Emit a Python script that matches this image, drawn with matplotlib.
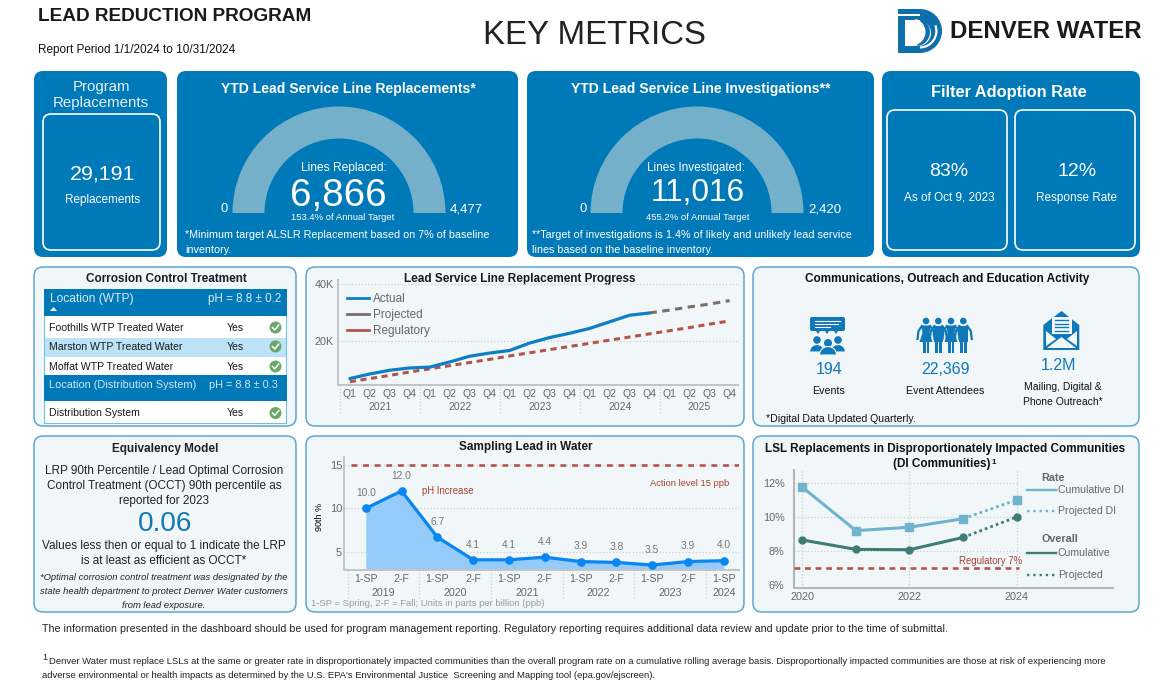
import matplotlib
matplotlib.use("Agg")
import matplotlib.pyplot as plt
from matplotlib.lines import Line2D
from matplotlib.patches import Circle, FancyBboxPatch, Polygon, Rectangle, Wedge

plt.rcParams["font.family"] = ["Liberation Sans", "DejaVu Sans"]

W, H = 1169, 693

# -----------------------------
# Data
# -----------------------------
quarters = ["Q1", "Q2", "Q3", "Q4"]
lsl_years = ["2021", "2022", "2023", "2024", "2025"]
lsl_actual = [6.9, 8.5, 9.8, 10.6, 10.9, 12.7, 14.7, 15.8, 16.7, 19.3, 21.2, 22.7, 24.4, 26.7, 29.0, 29.8]
lsl_projected = [29.8, 30.8, 31.9, 32.9, 34.1]
lsl_regulatory = [5.8, 6.9, 8.0, 9.2, 10.3, 11.4, 12.5, 13.6, 14.8, 15.9,
                  17.0, 18.1, 19.2, 20.3, 21.4, 22.5, 23.6, 24.7, 25.9, 27.0]

sample_labels = ["1-SP", "2-F", "1-SP", "2-F", "1-SP", "2-F", "1-SP", "2-F", "1-SP", "2-F", "1-SP"]
sample_years = ["2019", "2020", "2021", "2022", "2023", "2024"]
sample_values = [10.0, 12.0, 6.7, 4.1, 4.1, 4.4, 3.9, 3.8, 3.5, 3.9, 4.0]
action_level = 15

di_years = [2020, 2021, 2022, 2023]
di_rate = [11.75, 9.2, 9.4, 9.9]
overall_rate = [8.65, 8.1, 8.08, 8.8]
proj_years = [2023, 2024]
di_proj = [9.9, 11.0]
overall_proj = [8.8, 10.0]
reg_rate = 7

lsl_replaced = 6866
lsl_target = 4477
lines_investigated = 11016
investigation_target = 2420

wtp_rows = ["Foothills WTP Treated Water", "Marston WTP Treated Water", "Moffat WTP Treated Water"]

BLUE = "#0079B8"
GAUGE = "#74B0CA"
PANEL = "#F1F6F9"
EDGE = "#5BA6D2"
GRAY = "#666666"
RED = "#B5544A"
DI_LIGHT = "#6FB3CE"
DI_DARK = "#3F7C78"
ICON = "#0F78B8"
LOGO = "#0F6FAD"
GRID = "#C8D0D4"

fig = plt.figure(figsize=(W / 100, H / 100), dpi=100, facecolor="white")
ax = fig.add_axes([0, 0, 1, 1])
ax.set_xlim(0, W)
ax.set_ylim(H, 0)
ax.axis("off")


def txt(x, y, s, px, color="black", ha="center", weight="normal", style="normal", va="center"):
    # font size given in pixels, position in pixels
    return ax.text(x, y + 2, s, fontsize=px * 0.72, color=color, ha=ha, va=va, weight=weight, style=style)


def box(x0, y0, x1, y1, face, edge="none", lw=0, r=9):
    ax.add_patch(FancyBboxPatch((x0 + r, y0 + r), x1 - x0 - 2 * r, y1 - y0 - 2 * r,
                                boxstyle=f"round,pad={r},rounding_size={r}",
                                fc=face, ec=edge, lw=lw))


def rect(x0, y0, x1, y1, color):
    ax.add_patch(Rectangle((x0, y0), x1 - x0, y1 - y0, fc=color, ec="none"))


def chart_axes(x0, y_top, x1, y_bottom):
    a = fig.add_axes([x0 / W, 1 - y_bottom / H, (x1 - x0) / W, (y_bottom - y_top) / H])
    a.patch.set_alpha(0)
    for s in ["top", "right"]:
        a.spines[s].set_visible(False)
    for s in ["left", "bottom"]:
        a.spines[s].set_color("#C4C4C4")
        a.spines[s].set_linewidth(1.4)
    a.tick_params(length=0, labelcolor=GRAY)
    return a


def gauge(cx, cy, value, target):
    sweep = min(value / target, 1) * 180
    ax.add_patch(Wedge((cx, cy), 106.5, 180, 180 + sweep, width=32, fc=GAUGE, ec="none"))


# -----------------------------
# Header
# -----------------------------
txt(38, 14.5, "LEAD REDUCTION PROGRAM", 19, "#1A1A1A", ha="left", weight="bold")
txt(38, 48.5, "Report Period 1/1/2024 to 10/31/2024", 11.7, "#111111", ha="left")
txt(594, 33, "KEY METRICS", 33, "#222222")

# logo
rect(898, 9, 920, 53, LOGO)
ax.add_patch(Wedge((920, 31), 22, -90, 90, fc=LOGO, ec="none"))
ax.add_patch(Wedge((920, 31), 17.5, -20, 90, width=2.2, fc="white", ec="none"))
rect(898, 13.5, 920, 15.7, "white")
rect(905, 20, 918, 46, "white")
ax.add_patch(Wedge((918, 33), 13, -90, 90, fc="white", ec="none"))
ax.add_patch(Wedge((916, 32), 14, -70, 85, fc=LOGO, ec="none"))
ax.add_patch(Wedge((912, 32), 13.5, -75, 85, fc="white", ec="none"))
txt(950, 29, "DENVER WATER", 24, "#1A1A1A", ha="left", weight="bold")

# -----------------------------
# Top row panels
# -----------------------------
box(34, 71, 167, 257, BLUE)
txt(101, 85, "Program", 15, "#E8F2F8")
txt(101, 101, "Replacements", 15, "#E8F2F8")
box(43, 114, 160, 250, "none", "white", 1.2, r=8)
txt(102.5, 172, "29,191", 21.5, "white")
txt(103, 198, "Replacements", 11.8, "white")

box(177, 71, 518, 257, BLUE)
txt(348, 87, "YTD Lead Service Line Replacements*", 14, "white", weight="bold")
gauge(339, 213, lsl_replaced, lsl_target)
txt(344, 166, "Lines Replaced:", 12, "white")
txt(338, 194, f"{lsl_replaced:,}", 38.5, "white")
txt(343, 216, "153.4% of Annual Target", 9.5, "white")
txt(224, 207, "0", 13, "white")
txt(466, 207, f"{lsl_target:,}", 13.3, "white")
txt(185, 233, "*Minimum target ALSLR Replacement based on 7% of baseline", 10.7, "white", ha="left")
txt(185, 248, "inventory.", 10.7, "white", ha="left")

box(527, 71, 874, 257, BLUE)
txt(701, 87, "YTD Lead Service Line Investigations**", 14, "white", weight="bold")
gauge(697, 213, lines_investigated, investigation_target)
txt(696, 166, "Lines Investigated:", 11.7, "white")
txt(697.5, 191, f"{lines_investigated:,}", 31.5, "white")
txt(697.5, 215, "455.2% of Annual Target", 9.5, "white")
txt(583, 207, "0", 13, "white")
txt(825, 207, f"{investigation_target:,}", 13.3, "white")
txt(532, 233, "**Target of investigations is 1.4% of likely and unlikely lead service", 10.7, "white", ha="left")
txt(532, 248, "lines based on the baseline inventory.", 10.7, "white", ha="left")

box(882, 71, 1140, 257, BLUE)
txt(1009, 90, "Filter Adoption Rate", 16.4, "white", weight="bold")
box(887, 110, 1007, 250, "none", "white", 1.2, r=8)
box(1015, 110, 1135, 250, "none", "white", 1.2, r=8)
txt(949, 170, "83%", 19.5, "white")
txt(949, 196, "As of Oct 9, 2023", 11.8, "white")
txt(1077, 170, "12%", 19.5, "white")
txt(1077, 196, "Response Rate", 11.8, "white")

# -----------------------------
# Lower panels
# -----------------------------
for x0, x1 in [(34, 296), (306, 744), (753, 1139)]:
    box(x0, 267, x1, 426, PANEL, EDGE, 1.1)
    box(x0, 436, x1, 612, PANEL, EDGE, 1.1)

# Corrosion table
txt(166, 277, "Corrosion Control Treatment", 11.7, "#1A1A2A", weight="bold")
rect(44, 289, 287, 424, "#6CC0EE")
rect(45, 290, 286, 423, "white")
rect(44, 289, 287, 316, BLUE)
rect(45, 338, 286, 357, "#BDE3F8")
rect(44, 375, 287, 401, BLUE)
txt(49.5, 297, "Location (WTP)", 12, "#DCEBF5", ha="left")
txt(281, 297, "pH = 8.8 ± 0.2", 11.6, "#DCEBF5", ha="right")
ax.add_patch(Polygon([(50, 311), (57, 311), (53.5, 307)], fc="white", ec="none"))
txt(49, 383, "Location (Distribution System)", 11, "#CFE6F4", ha="left")
txt(278, 383, "pH = 8.8 ± 0.3", 11, "#CFE6F4", ha="right")


def check(x, y):
    ax.add_patch(Circle((x, y), 6, fc="#6AA86A", ec="none"))
    ax.plot([x - 3, x - 0.8, x + 3.2], [y, y + 2.4, y - 2.4], color="white", lw=1.1)


row_y = [326, 345, 365]
for name, y in zip(wtp_rows, row_y):
    txt(49, y, name, 10.45, "#1A1A1A", ha="left")
    txt(235, y, "Yes", 10.45, "#1A1A1A")
    check(275.5, y + 1.5)
txt(49, 411, "Distribution System", 10.45, "#1A1A1A", ha="left")
txt(235, 411, "Yes", 10.45, "#1A1A1A")
check(275.5, 413)

# Replacement progress
txt(520, 277, "Lead Service Line Replacement Progress", 11.8, "#1A1A1A", weight="bold")
a1 = chart_axes(338.3, 280, 738.5, 384.7)
q_x = list(range(len(quarters) * len(lsl_years)))
a1.plot(q_x[:len(lsl_actual)], lsl_actual, color="#0E7FC4", lw=2.3, solid_capstyle="round", zorder=4)
a1.plot(q_x[len(lsl_actual) - 1:], lsl_projected, color="#7A6E6A", lw=2.2, ls=(0, (2.4, 1.8)), zorder=3)
a1.plot(q_x, lsl_regulatory, color=RED, lw=2.2, ls=(0, (2.0, 1.5)), zorder=3)
a1.set_xlim(-0.58, 19.45)
a1.set_ylim(4.75, 41.3)
a1.set_yticks([20, 40], ["20K", "40K"], fontsize=7.8)
a1.yaxis.grid(True, ls=":", color=GRID, lw=0.9)
a1.set_axisbelow(True)
a1.set_xticks(q_x, quarters * len(lsl_years), fontsize=7.5)
a1.tick_params(axis="x", pad=3)
a1.tick_params(axis="y", pad=3)
tr = a1.get_xaxis_transform()
for i, year in enumerate(lsl_years):
    a1.text(4 * i + 1.5, -0.215, year, transform=tr, ha="center", va="center", fontsize=7.5, color=GRAY)
    a1.plot([4 * i - 0.5] * 2, [0, -0.28], transform=tr, color=GRID, ls=":", lw=0.9, clip_on=False)
a1.legend(handles=[Line2D([], [], color="#0E7FC4", lw=2.0),
                   Line2D([], [], color="#7A6E6A", lw=2.0),
                   Line2D([], [], color=RED, lw=2.0)],
          labels=["Actual", "Projected", "Regulatory"], frameon=False, fontsize=8.5,
          labelcolor=GRAY, loc="upper left", bbox_to_anchor=(0.0225, 0.875), borderaxespad=0,
          borderpad=0, handlelength=1.8, handletextpad=0.4, labelspacing=0.32)

# Communications
txt(947, 277, "Communications, Outreach and Education Activity", 11.8, "#111111", weight="bold")
# events icon
box(810, 317, 845, 331, ICON, r=2)
for x0, x1, y in [(815, 840, 320.5), (815, 838, 323.5), (815, 830, 326.5)]:
    ax.plot([x0, x1], [y, y], color="white", lw=0.8)
for x in [818, 827, 836]:
    ax.add_patch(Polygon([(x - 2, 331), (x + 2, 331), (x, 334)], fc=ICON, ec="none"))
for cx, cy, r, rx, bottom in [(817, 340, 3.8, 7.5, 352), (838, 340, 3.8, 7.5, 352), (828, 343, 4, 8.5, 355)]:
    ax.add_patch(Circle((cx, cy), r, fc=ICON, ec="none"))
    ax.add_patch(Wedge((cx, bottom), rx, 180, 360, fc=ICON, ec=PANEL, lw=0.8))
# people icon
for i, cx in enumerate([926, 938.3, 951, 963.3]):
    ax.add_patch(Circle((cx, 321), 3.3, fc=ICON, ec="none"))
    if i % 2 == 0:
        ax.add_patch(Polygon([(cx - 4.5, 325.5), (cx + 4.5, 325.5), (cx + 3.5, 333), (cx + 6.5, 342),
                              (cx - 6.5, 342), (cx - 3.5, 333)], fc=ICON, ec="none"))
    else:
        rect(cx - 4.5, 325.5, cx + 4.5, 342, ICON)
    rect(cx - 3.4, 341, cx - 0.5, 353, ICON)
    rect(cx + 0.5, 341, cx + 3.4, 353, ICON)
    ax.plot([cx - 4, cx - 7.5, cx - 8.5], [326, 331, 339], color=ICON, lw=1.6)
    ax.plot([cx + 4, cx + 7.5, cx + 8.5], [326, 331, 339], color=ICON, lw=1.6)
# envelope icon
ax.add_patch(Polygon([(1043.3, 325), (1061.5, 311), (1079.3, 325), (1079.3, 350), (1043.3, 350)], fc=ICON, ec="none"))
ax.add_patch(Polygon([(1047, 348), (1061.5, 337), (1076, 348)], fc=PANEL, ec="none"))
ax.add_patch(Polygon([(1046, 331), (1056, 339), (1046, 346)], fc=PANEL, ec="none"))
ax.add_patch(Polygon([(1077, 331), (1067, 339), (1077, 346)], fc=PANEL, ec="none"))
rect(1051.5, 316.5, 1071.5, 334, "#F7FAFC")
for y in [320, 323.5, 327, 330.5]:
    ax.plot([1055, 1068], [y, y], color=ICON, lw=1)
txt(829, 368, "194", 16, ICON)
txt(829, 389, "Events", 10.6, "#111111")
txt(945, 368, "22,369", 16, ICON)
txt(945, 389, "Event Attendees", 10.6, "#111111")
txt(1059, 364, "1.2M", 16, ICON)
txt(1063, 385, "Mailing, Digital &", 10.4, "#111111")
txt(1063, 400, "Phone Outreach*", 10.4, "#111111")
txt(766, 417, "*Digital Data Updated Quarterly.", 10.5, "#111111", ha="left")

# Equivalency model
txt(165, 447, "Equivalency Model", 11.7, "#222222", weight="bold")
txt(164, 469, "LRP 90th Percentile / Lead Optimal Corrosion", 11.8, "#222222")
txt(164, 484, "Control Treatment (OCCT) 90th percentile as", 11.8, "#222222")
txt(164, 499, "reported for 2023", 11.8, "#222222")
txt(165, 522, "0.06", 28, ICON)
txt(164, 544, "Values less then or equal to 1 indicate the LRP", 11.8, "#222222")
txt(164, 559, "is at least as efficient as OCCT*", 11.8, "#222222")
txt(164, 575, "*Optimal corrosion control treatment was designated by the", 9.35, "#222222", style="italic")
txt(164, 590, "state health department to protect Denver Water customers", 9.35, "#222222", style="italic")
txt(164, 604, "from lead exposure.", 9.35, "#222222", style="italic")

# Sampling lead
txt(526, 445, "Sampling Lead in Water", 11.7, "#1A1A1A", weight="bold")
a2 = chart_axes(344.3, 457, 738.5, 570)
s_x = list(range(len(sample_values)))
a2.set_xlim(-0.6, 10.41)
a2.set_ylim(2.93, 15.9)
a2.fill_between(s_x, sample_values, a2.get_ylim()[0], color="#94CBFA", lw=0, zorder=2)
a2.plot(s_x, sample_values, color="#0A86F0", lw=2.3, marker="o", ms=5.2, zorder=4)
a2.axhline(action_level, color=RED, lw=1.9, ls=(0, (2.2, 2.2)), xmin=0.016, zorder=3)
a2.set_yticks([5, 10, 15], ["5", "10", "15"], fontsize=8)
a2.yaxis.grid(True, ls=":", color=GRID, lw=0.9)
a2.set_axisbelow(True)
a2.set_xticks(s_x, sample_labels, fontsize=7.7)
a2.tick_params(axis="x", pad=3)
a2.tick_params(axis="y", pad=1.5)
for x, v in zip(s_x, sample_values):
    a2.annotate(f"{v:.1f}", (x, v), xytext=(0, 11), textcoords="offset points", ha="center", va="center",
                fontsize=7.4, color="#777777")
tr = a2.get_xaxis_transform()
for i, year in enumerate(sample_years):
    center = 2 * i + (0.5 if i < len(sample_years) - 1 else 0)
    a2.text(center, -0.2, year, transform=tr, ha="center", va="center", fontsize=7.7, color=GRAY)
    a2.plot([2 * i - 0.5] * 2, [0, -0.25], transform=tr, color=GRID, ls=":", lw=0.9, clip_on=False)
txt(320, 515, "90th %", 9, "black").set_rotation(90)
txt(422, 489, "pH Increase", 9.6, "#A8432F", ha="left")
txt(729, 481, "Action level 15 ppb", 9.4, "#A8432F", ha="right")
txt(311, 601, "1-SP = Spring, 2-F = Fall; Units in parts per billion (ppb)", 9.45, "#9A9A9A", ha="left")

# DI communities
txt(945, 447, "LSL Replacements in Disproportionately Impacted Communities", 11.75, "#111111", weight="bold")
txt(942, 462, "(DI Communities)", 11.75, "#111111", weight="bold")
txt(994, 461, "1", 8, "#111111", weight="bold")
a3 = chart_axes(794.3, 470, 1113, 587.7)
a3.plot(di_years, di_rate, color=DI_LIGHT, lw=2.2, marker="s", ms=6, zorder=4)
a3.plot(proj_years, di_proj, color=DI_LIGHT, lw=2, ls=(0, (1, 1.1)), marker="s", ms=6, markevery=[1], zorder=4)
a3.plot(di_years, overall_rate, color=DI_DARK, lw=2.2, marker="o", ms=5, zorder=4)
a3.plot(proj_years, overall_proj, color=DI_DARK, lw=2, ls=(0, (1, 1.1)), marker="o", ms=5, markevery=[1], zorder=4)
a3.set_xlim(2019.85, 2025.8)
a3.set_ylim(5.85, 12.76)
a3.hlines(reg_rate, 2019.85, 2024.05, color=RED, lw=1.9, ls=(0, (2.2, 1.8)), zorder=3)
a3.set_yticks([6, 8, 10, 12], ["6%", "8%", "10%", "12%"], fontsize=7.8)
a3.set_xticks([2020, 2022, 2024], ["2020", "2022", "2024"], fontsize=7.8)
# grid stops at the last year, the legend sits to the right of it
a3.hlines([8, 10, 12], 2019.85, 2024, color=GRID, ls=":", lw=0.9, zorder=1)
a3.vlines([2020, 2022, 2024], 5.85, 12.76, color=GRID, ls=":", lw=0.9, zorder=1)
a3.spines["left"].set_color("#B4B4B4")
a3.spines["bottom"].set_color("#B4B4B4")
a3.tick_params(axis="x", pad=3)
a3.tick_params(axis="y", pad=7)
txt(991, 559, "Regulatory 7%", 9.6, "#A8432F")
txt(1041, 476, "Rate", 10.8, "#666666", ha="left", weight="bold")
txt(1041, 537, "Overall", 10.8, "#666666", ha="left", weight="bold")
legend_rows = [(490, "Cumulative DI", DI_LIGHT, "-"), (511, "Projected DI", DI_LIGHT, ":"),
               (553, "Cumulative", DI_DARK, "-"), (575, "Projected", DI_DARK, ":")]
for y, label, c, ls in legend_rows:
    ax.plot([1027, 1056], [y, y], color=c, lw=1.7, ls=ls)
    txt(1058, y - 2, label, 10.5, GRAY, ha="left")

# -----------------------------
# Footer
# -----------------------------
txt(42, 627, "The information presented in the dashboard should be used for program management reporting. "
    "Regulatory reporting requires additional data review and update prior to the time of submittal.",
    10.6, "#222222", ha="left")
txt(42, 655, "1", 9, "#222222", ha="left")
txt(49, 659, "Denver Water must replace LSLs at the same or greater rate in disproportionately impacted communities "
    "than the overall program rate on a cumulative rolling average basis. Disproportionally impacted communities "
    "are those at risk of experiencing more", 9.5, "#222222", ha="left")
txt(42, 674, "adverse environmental or health impacts as determined by the U.S. EPA's Environmental Justice  Screening "
    "and Mapping tool (epa.gov/ejscreen).", 9.5, "#222222", ha="left")

fig.savefig("out.png", dpi=100)
